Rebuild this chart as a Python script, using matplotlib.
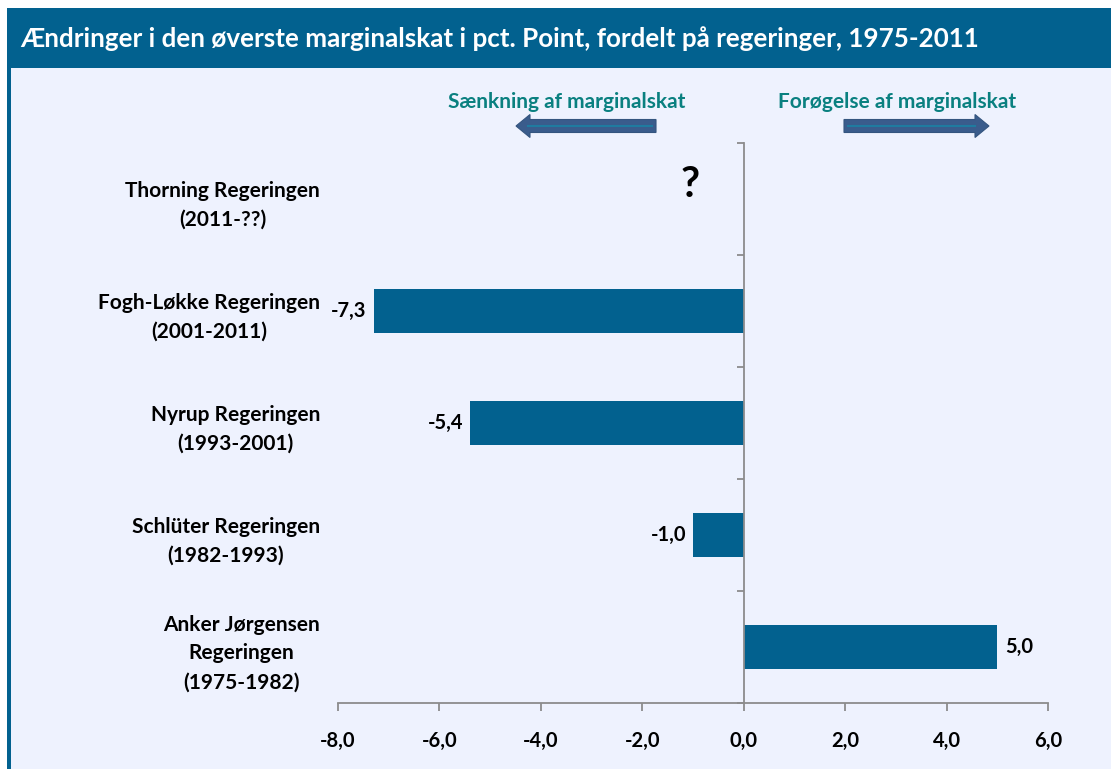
import numpy as np
import matplotlib.pyplot as plt
from matplotlib.patches import Rectangle, FancyArrow

plt.rcParams['font.family'] = ['Lato', 'DejaVu Sans']
plt.rcParams['font.weight'] = 'bold'

# data (bottom to top)
regeringer = ['Anker Jørgensen\nRegeringen\n(1975-1982)',
              'Schlüter Regeringen\n(1982-1993)',
              'Nyrup Regeringen\n(1993-2001)',
              'Fogh-Løkke Regeringen\n(2001-2011)',
              'Thorning Regeringen\n(2011-??)']
aendring = [5.0, -1.0, -5.4, -7.3, np.nan]
xticks = [-8, -6, -4, -2, 0, 2, 4, 6]
title = 'Ændringer i den øverste marginalskat i pct. Point, fordelt på regeringer, 1975-2011'

W, H = 1111, 769
blue = '#02618F'
grey = '#8C8C8C'

fig = plt.figure(figsize=(W / 100, H / 100), dpi=100)

# background panel, header and arrows in pixel coords
bg = fig.add_axes([0, 0, 1, 1], zorder=0)
bg.set_xlim(0, W)
bg.set_ylim(H, 0)
bg.axis('off')
bg.add_patch(Rectangle((7, 8), W - 7, H - 8, fc='#EEF2FE', ec='none'))
bg.add_patch(Rectangle((7, 8), W - 7, 60, fc=blue, ec='none'))
bg.add_patch(Rectangle((7, 8), 4, H - 8, fc=blue, ec='none'))
bg.text(20, 39, title, color='white', fontsize=18.7, fontweight='bold',
        va='center', ha='left')

bg.text(567, 102, 'Sænkning af marginalskat', color='#0A8080', fontsize=15,
        ha='center', va='center')
bg.text(897, 102, 'Forøgelse af marginalskat', color='#0A8080', fontsize=15,
        ha='center', va='center')
bg.add_patch(FancyArrow(656, 126, -140, 0, width=13, head_width=23, head_length=14,
                        length_includes_head=True, fc='#3A5C8C', ec='#34557F', lw=0.8))
bg.add_patch(FancyArrow(844, 126, 145, 0, width=13, head_width=23, head_length=14,
                        length_includes_head=True, fc='#3A5C8C', ec='#34557F', lw=0.8))
bg.plot([528, 652], [126, 126], color='#1F7BA0', lw=1.5)
bg.plot([848, 975], [126, 126], color='#1F7BA0', lw=1.5)

# main chart
ax = fig.add_axes([338 / W, 1 - 703 / H, 710 / W, 560 / H], zorder=1)
ax.patch.set_alpha(0)
y = np.arange(len(regeringer))
ax.barh(y, aendring, height=0.4, color=blue, zorder=2)

ax.set_xlim(-8, 6)
ax.set_ylim(-0.5, 4.5)
ax.spines['top'].set_visible(False)
ax.spines['right'].set_visible(False)
ax.spines['left'].set_position(('data', 0))
for s in ('left', 'bottom'):
    ax.spines[s].set_color(grey)
    ax.spines[s].set_linewidth(1.3)

ax.set_xticks(xticks)
ax.set_xticklabels([f'{v:.1f}'.replace('.', ',') for v in xticks])
ax.set_yticks(y)
ax.set_yticklabels(regeringer, multialignment='center', linespacing=1.55)
ax.set_yticks(np.arange(-0.5, len(regeringer), 1), minor=True)
ax.tick_params(axis='y', which='major', length=0, pad=305, labelsize=15)
ax.tick_params(axis='y', which='minor', length=5, direction='out', color=grey, width=1.3)
ax.tick_params(axis='x', length=6, color=grey, width=1.3, pad=14, labelsize=14.5)

for yi, v in zip(y, aendring):
    if np.isnan(v):
        ax.annotate('?', (-1.05, yi), xytext=(0, 10), textcoords='offset points',
                    ha='center', va='center', fontsize=30, fontweight='bold')
        continue
    off = -5 if v < 0 else 6
    ax.annotate(f'{v:.1f}'.replace('.', ','), (v, yi), xytext=(off, 0),
                textcoords='offset points', ha='right' if v < 0 else 'left',
                va='center', fontsize=14.5, fontweight='bold')

fig.savefig('out.png', dpi=100)
